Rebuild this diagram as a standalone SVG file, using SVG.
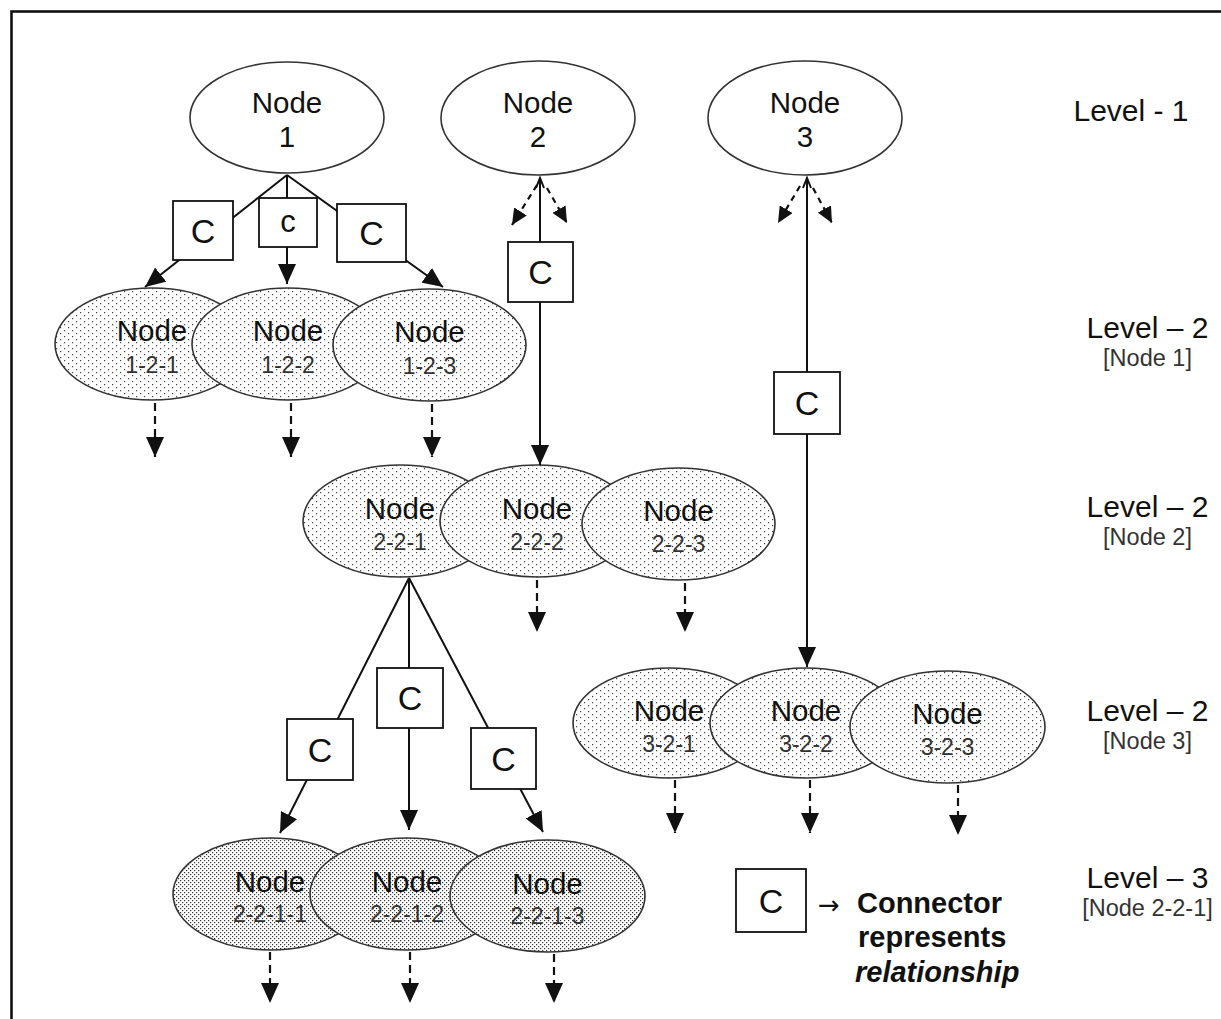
<svg xmlns="http://www.w3.org/2000/svg" width="1221" height="1019" viewBox="0 0 1221 1019">
  <defs>
    <style>
      text { font-family: "Liberation Sans", Arial, sans-serif; fill: #111; }
      .top { fill: #fff; stroke: #333; stroke-width: 1.6; }
      .lv2 { fill: url(#dotsSparse); stroke: #333; stroke-width: 1.6; }
      .lv3 { fill: url(#dotsDense); stroke: #333; stroke-width: 1.6; }
      .nm { font-size: 29.5px; text-anchor: middle; }
      .sub { font-size: 23px; text-anchor: middle; fill: #333; }
      .box { fill: #fff; stroke: #111; stroke-width: 1.8; }
      .bc { font-size: 34px; text-anchor: middle; fill: #111; }
      .link { fill: none; stroke: #111; stroke-width: 2; }
      .arr { marker-end: url(#ah); }
      .dash { fill: none; stroke: #111; stroke-width: 2.2; stroke-dasharray: 8 5; marker-end: url(#ah); }
      .dsm { fill: none; stroke: #111; stroke-width: 2.2; stroke-dasharray: 6 5; marker-end: url(#ahs); }
      .lvl { font-size: 30px; text-anchor: middle; }
      .lsub { font-size: 23.5px; text-anchor: middle; fill: #333; }
      .leg { font-size: 29px; font-weight: bold; }
    </style>
    <pattern id="dotsSparse" patternUnits="userSpaceOnUse" width="8" height="6">
      <rect width="8" height="6" fill="#fff"/>
      <rect x="0" y="0" width="1.2" height="1.2" fill="#444"/>
      <rect x="4" y="3" width="1.2" height="1.2" fill="#444"/>
    </pattern>
    <pattern id="dotsDense" patternUnits="userSpaceOnUse" width="4" height="4">
      <rect width="4" height="4" fill="#fff"/>
      <rect x="0" y="0" width="1.2" height="1.2" fill="#333"/>
      <rect x="2" y="2" width="1.2" height="1.2" fill="#333"/>
    </pattern>
    <marker id="ah" viewBox="0 0 20 18" refX="20" refY="9" markerWidth="20" markerHeight="18" markerUnits="userSpaceOnUse" orient="auto">
      <path d="M0,0 L20,9 L0,18 z" fill="#111"/>
    </marker>
    <marker id="ahs" viewBox="0 0 16 15" refX="16" refY="7.5" markerWidth="16" markerHeight="15" markerUnits="userSpaceOnUse" orient="auto">
      <path d="M0,0 L16,7.5 L0,15 z" fill="#111"/>
    </marker>
    <clipPath id="pageClip">
      <rect x="0" y="0" width="1212" height="1019"/>
    </clipPath>
  </defs>

  <rect width="1221" height="1019" fill="#fff"/>
  <!-- frame: its right and bottom sides run off the page -->
  <rect x="11.5" y="11.5" width="1400" height="1200" fill="none" stroke="#111" stroke-width="2.6"/>

  <!-- Level 1 -->
  <g id="node-1">
    <ellipse class="top" cx="287" cy="117.5" rx="97" ry="55.5"/>
    <text class="nm" x="287" y="113">Node</text>
    <text class="nm" x="287" y="147">1</text>
  </g>
  <g id="node-2">
    <ellipse class="top" cx="538" cy="118" rx="97" ry="57"/>
    <text class="nm" x="538" y="113">Node</text>
    <text class="nm" x="538" y="147">2</text>
  </g>
  <g id="node-3">
    <ellipse class="top" cx="805" cy="118" rx="97" ry="57"/>
    <text class="nm" x="805" y="113">Node</text>
    <text class="nm" x="805" y="147">3</text>
  </g>

  <!-- Level 2 under Node 1 -->
  <g id="node-1-2-1">
    <ellipse class="lv2" cx="152" cy="344" rx="97" ry="56"/>
    <text class="nm" x="152" y="341">Node</text>
    <text class="sub" x="152" y="373">1-2-1</text>
  </g>
  <g id="node-1-2-2">
    <ellipse class="lv2" cx="288" cy="344" rx="96" ry="56"/>
    <text class="nm" x="288" y="341">Node</text>
    <text class="sub" x="288" y="373">1-2-2</text>
  </g>
  <g id="node-1-2-3">
    <ellipse class="lv2" cx="429.5" cy="345" rx="96.5" ry="56"/>
    <text class="nm" x="429.5" y="342">Node</text>
    <text class="sub" x="429.5" y="374">1-2-3</text>
  </g>

  <!-- Level 2 under Node 2 -->
  <g id="node-2-2-1">
    <ellipse class="lv2" cx="400" cy="521" rx="97" ry="56"/>
    <text class="nm" x="400" y="519">Node</text>
    <text class="sub" x="400" y="550">2-2-1</text>
  </g>
  <g id="node-2-2-2">
    <ellipse class="lv2" cx="537" cy="521" rx="97" ry="56"/>
    <text class="nm" x="537" y="519">Node</text>
    <text class="sub" x="537" y="550">2-2-2</text>
  </g>
  <g id="node-2-2-3">
    <ellipse class="lv2" cx="678.5" cy="524" rx="96.5" ry="56"/>
    <text class="nm" x="678.5" y="521">Node</text>
    <text class="sub" x="678.5" y="552">2-2-3</text>
  </g>

  <!-- Level 2 under Node 3 -->
  <g id="node-3-2-1">
    <ellipse class="lv2" cx="669" cy="723" rx="96" ry="55"/>
    <text class="nm" x="669" y="721">Node</text>
    <text class="sub" x="669" y="752">3-2-1</text>
  </g>
  <g id="node-3-2-2">
    <ellipse class="lv2" cx="806" cy="723" rx="96" ry="55"/>
    <text class="nm" x="806" y="721">Node</text>
    <text class="sub" x="806" y="752">3-2-2</text>
  </g>
  <g id="node-3-2-3">
    <ellipse class="lv2" cx="947.5" cy="727" rx="97.5" ry="56"/>
    <text class="nm" x="947.5" y="724">Node</text>
    <text class="sub" x="947.5" y="755">3-2-3</text>
  </g>

  <!-- Level 3 under Node 2-2-1 -->
  <g id="node-2-2-1-1">
    <ellipse class="lv3" cx="270" cy="894" rx="97" ry="56"/>
    <text class="nm" x="270" y="892">Node</text>
    <text class="sub" x="270" y="922">2-2-1-1</text>
  </g>
  <g id="node-2-2-1-2">
    <ellipse class="lv3" cx="407" cy="894" rx="97" ry="56"/>
    <text class="nm" x="407" y="892">Node</text>
    <text class="sub" x="407" y="922">2-2-1-2</text>
  </g>
  <g id="node-2-2-1-3">
    <ellipse class="lv3" cx="547.5" cy="896" rx="97.5" ry="56"/>
    <text class="nm" x="547.5" y="894">Node</text>
    <text class="sub" x="547.5" y="924">2-2-1-3</text>
  </g>

  <!-- connectors -->
  <g id="connectors">
    <!-- Node 1 fan-out -->
    <line class="link arr" x1="287" y1="175" x2="145" y2="287"/>
    <line class="link arr" x1="287" y1="175" x2="287" y2="284"/>
    <line class="link arr" x1="287" y1="175" x2="443" y2="287"/>

    <!-- Node 2 to 2-2-2 -->
    <line class="link arr" x1="540" y1="178" x2="540" y2="465"/>
    <path class="link" d="M536,188 L540,178 L544,188" stroke-width="1.5"/>
    <line class="dsm" x1="537" y1="185" x2="512" y2="225"/>
    <line class="dsm" x1="547" y1="188" x2="567" y2="223"/>

    <!-- Node 3 to 3-2-2 -->
    <line class="link arr" x1="807" y1="178" x2="807" y2="667"/>
    <path class="link" d="M803,188 L807,178 L811,188" stroke-width="1.5"/>
    <line class="dsm" x1="800" y1="186" x2="778" y2="223"/>
    <line class="dsm" x1="813" y1="188" x2="832" y2="223"/>

    <!-- Node 2-2-1 fan-out -->
    <line class="link arr" x1="409" y1="578" x2="280" y2="833"/>
    <line class="link arr" x1="409" y1="578" x2="409" y2="830"/>
    <line class="link arr" x1="409" y1="578" x2="543" y2="832"/>

    <!-- open continuations -->
    <line class="dash" x1="155" y1="403" x2="155" y2="457"/>
    <line class="dash" x1="291" y1="403" x2="291" y2="457"/>
    <line class="dash" x1="432" y1="404" x2="432" y2="457"/>
    <line class="dash" x1="537" y1="580" x2="537" y2="632"/>
    <line class="dash" x1="685" y1="583" x2="685" y2="632"/>
    <line class="dash" x1="675" y1="780" x2="675" y2="833"/>
    <line class="dash" x1="810" y1="780" x2="810" y2="833"/>
    <line class="dash" x1="958" y1="785" x2="958" y2="835"/>
    <line class="dash" x1="270" y1="952" x2="270" y2="1003"/>
    <line class="dash" x1="410" y1="952" x2="410" y2="1003"/>
    <line class="dash" x1="554" y1="954" x2="554" y2="1003"/>

    <!-- connector boxes -->
    <rect class="box" x="173" y="201" width="60" height="59"/>
    <text class="bc" x="203" y="243">C</text>
    <rect class="box" x="259" y="198" width="58" height="49"/>
    <text class="bc" x="288" y="232" style="font-size:31px">c</text>
    <rect class="box" x="337" y="204" width="69" height="58"/>
    <text class="bc" x="371.5" y="245">C</text>

    <rect class="box" x="508" y="242" width="65" height="60"/>
    <text class="bc" x="540.5" y="284">C</text>

    <rect class="box" x="774" y="372" width="66" height="62"/>
    <text class="bc" x="807" y="415">C</text>

    <rect class="box" x="287" y="719" width="66" height="61"/>
    <text class="bc" x="320" y="762">C</text>
    <rect class="box" x="377" y="668" width="66" height="60"/>
    <text class="bc" x="410" y="710">C</text>
    <rect class="box" x="471" y="728" width="65" height="61"/>
    <text class="bc" x="503.5" y="771">C</text>
  </g>

  <!-- level captions -->
  <g id="levels">
    <text class="lvl" x="1131" y="121">Level - 1</text>
    <text class="lvl" x="1147.5" y="338">Level – 2</text>
    <text class="lsub" x="1147.5" y="366">[Node 1]</text>
    <text class="lvl" x="1147.5" y="517">Level – 2</text>
    <text class="lsub" x="1147.5" y="545">[Node 2]</text>
    <text class="lvl" x="1147.5" y="721">Level – 2</text>
    <text class="lsub" x="1147.5" y="749">[Node 3]</text>
    <text class="lvl" x="1147.5" y="888">Level – 3</text>
    <text class="lsub" x="1147.5" y="916" clip-path="url(#pageClip)">[Node 2-2-1]</text>
  </g>

  <!-- legend -->
  <g id="legend">
    <rect class="box" x="736" y="869" width="70" height="63"/>
    <text class="bc" x="771" y="913">C</text>
    <text x="818" y="914" style="font-family:'DejaVu Sans', sans-serif; font-size:26px">→</text>
    <text class="leg" x="857" y="913">Connector</text>
    <text class="leg" x="858" y="947">represents</text>
    <text class="leg" x="855" y="982" font-style="italic">relationship</text>
  </g>
</svg>
